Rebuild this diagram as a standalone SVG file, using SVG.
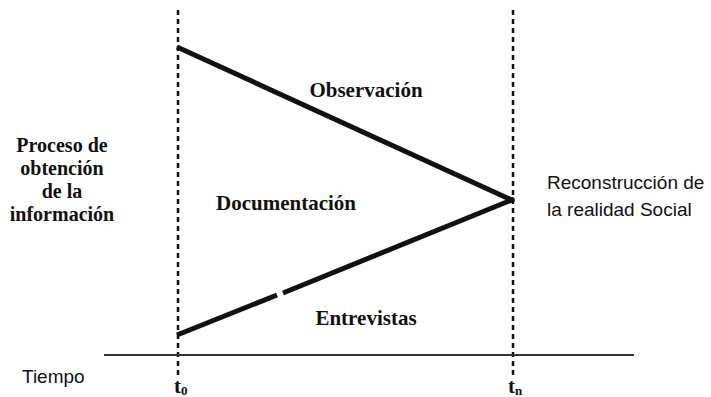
<svg xmlns="http://www.w3.org/2000/svg" width="711" height="397" viewBox="0 0 711 397">
<style>
.dash{stroke:#111;stroke-width:2.5;stroke-dasharray:5 4;fill:none}
.tri{stroke:#111;stroke-width:5;fill:none;stroke-linecap:butt}
.axis{stroke:#333;stroke-width:2;fill:none}
.lbl{font-family:"Liberation Serif",serif;font-weight:bold;font-size:21px;fill:#111}
.side{font-family:"Liberation Serif",serif;font-weight:bold;font-size:20px;fill:#111}
.sans{font-family:"Liberation Sans",sans-serif;font-size:19px;fill:#111}
</style>
<rect width="711" height="397" fill="#fff"/>
<g id="connectors">
<line class="dash" x1="178" y1="10" x2="178" y2="378"/>
<line class="dash" x1="513" y1="10" x2="513" y2="378"/>
<line class="axis" x1="104" y1="355" x2="634" y2="355"/>
<line class="tri" x1="177" y1="47" x2="514" y2="201"/>
<line class="tri" x1="177" y1="335" x2="277" y2="295"/>
<line class="tri" x1="283" y1="293" x2="514" y2="199"/>
</g>
<g id="observacion"><text class="lbl" x="366" y="97" text-anchor="middle">Observación</text></g>
<g id="documentacion"><text class="lbl" x="286" y="210" text-anchor="middle">Documentación</text></g>
<g id="entrevistas"><text class="lbl" x="366" y="325" text-anchor="middle">Entrevistas</text></g>
<g id="proceso">
<text class="side" text-anchor="middle"><tspan x="62" y="152">Proceso de</tspan><tspan x="62" y="175">obtención</tspan><tspan x="62" y="198">de la</tspan><tspan x="62" y="221">información</tspan></text>
</g>
<g id="reconstruccion">
<text class="sans"><tspan x="547" y="189">Reconstrucción de</tspan><tspan x="547" y="216">la realidad Social</tspan></text>
</g>
<g id="tiempo"><text class="sans" x="22" y="383">Tiempo</text></g>
<g id="t0"><text class="lbl" x="174" y="393">t<tspan font-size="13" dy="2">0</tspan></text></g>
<g id="tn"><text class="lbl" x="508" y="393">t<tspan font-size="13" dy="2">n</tspan></text></g>
</svg>
